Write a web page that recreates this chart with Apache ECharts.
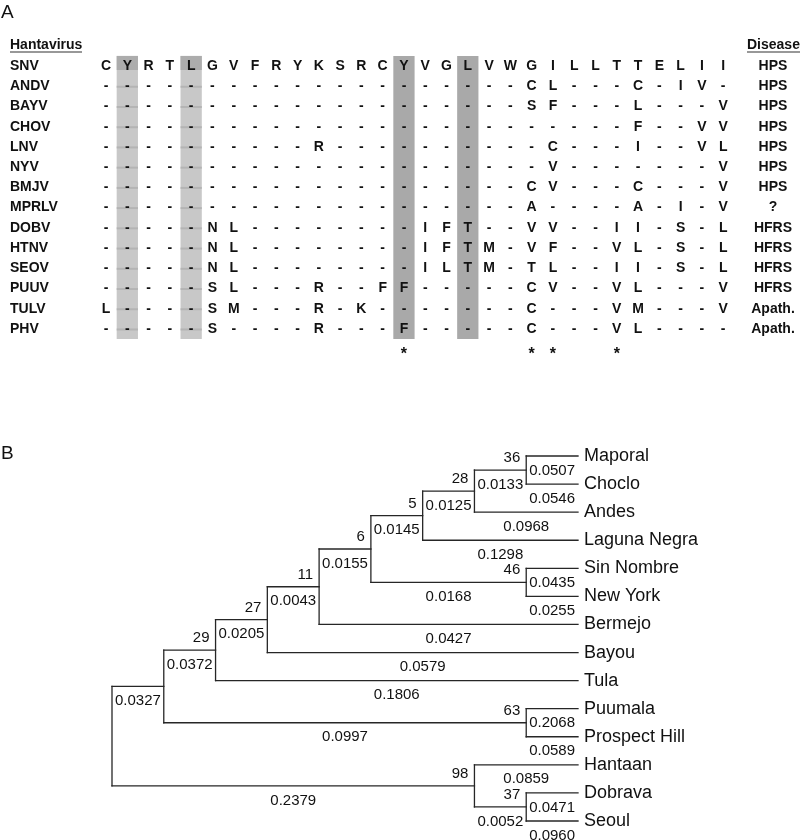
<!DOCTYPE html>
<html><head><meta charset="utf-8">
<script src="https://cdn.jsdelivr.net/npm/echarts@6/dist/echarts.min.js"></script>
<style>html,body{margin:0;padding:0;background:#fff}#c{width:800px;height:840px}</style>
</head><body><div id="c"></div>
<script>
// ---------- Panel A data ----------
const rowNames = ['SNV','ANDV','BAYV','CHOV','LNV','NYV','BMJV','MPRLV','DOBV','HTNV','SEOV','PUUV','TULV','PHV'];
const diseases = ['HPS','HPS','HPS','HPS','HPS','HPS','HPS','?','HFRS','HFRS','HFRS','HFRS','Apath.','Apath.'];
const sequences = [
  'CYRTLGVFRYKSRCYVGLVWGILLTTELII',
  '--------------------CL---C-IV-',
  '--------------------SF---L---V',
  '-------------------------F--VV',
  '----------R----------C---I--VL',
  '---------------------V-------V',
  '--------------------CV---C---V',
  '--------------------A----A-I-V',
  '-----NL--------IFT--VV--II-S-L',
  '-----NL--------IFTM-VF--VL-S-L',
  '-----NL--------ILTM-TL--II-S-L',
  '-----SL---R--FF-----CV--VL---V',
  'L----SM---R-K-------C---VM---V',
  '-----S----R---F-----C---VL----'
];
const shadedCols = [1, 4, 14, 17];
const shadeTones = ['light', 'light', 'dark', 'dark'];
const conservedCols = [14, 20, 21, 24];

// ---------- Panel B data ----------
const treeNewick = '(((((((((Maporal:0.0507,Choclo:0.0546)36:0.0133,Andes:0.0968)28:0.0125,Laguna Negra:0.1298)5:0.0145,(Sin Nombre:0.0435,New York:0.0255)46:0.0168)6:0.0155,Bermejo:0.0427)11:0.0043,Bayou:0.0579)27:0.0205,Tula:0.1806)29:0.0372,(Puumala:0.2068,Prospect Hill:0.0589)63:0.0997):0.0327,(Hantaan:0.0859,(Dobrava:0.0471,Seoul:0.0960)37:0.0052)98:0.2379);';

// ---------- build ----------
const FONT = '"Liberation Sans", Arial, Helvetica, sans-serif';
const TXT = '#111';
const colCats = sequences[0].split('').map((_, i) => String(i));
const cells = [];
const cellText = [];
sequences.forEach((s, r) => s.split('').forEach((ch, c) => { cells.push([c, r]); cellText.push(ch); }));

function parseNewick(s) {
  let i = 0;
  function node() {
    const n = { children: [] };
    if (s[i] === '(') {
      i++;
      n.children.push(node());
      while (s[i] === ',') { i++; n.children.push(node()); }
      i++;
    }
    let name = '';
    while (i < s.length && !',():;'.includes(s[i])) name += s[i++];
    n.name = name;
    n.len = '';
    if (s[i] === ':') { i++; let l = ''; while (i < s.length && !',();'.includes(s[i])) l += s[i++]; n.len = l; }
    return n;
  }
  return node();
}
const root = parseNewick(treeNewick);
let leafCounter = 0;
function layout(n, parent) {
  n.parent = parent;
  if (!n.children.length) { n.h = 0; n.y = leafCounter++; }
  else {
    n.children.forEach(c => layout(c, n));
    n.h = 1 + Math.max(...n.children.map(c => c.h));
    n.y = (n.children[0].y + n.children[n.children.length - 1].y) / 2;
  }
}
layout(root, null);
const all = [];
(function walk(n) { all.push(n); n.children.forEach(walk); })(root);
all.forEach(n => { n.x = root.h - n.h; });

const segs = [];
const labels = [];
const labelInfo = [];
all.forEach(n => {
  if (n.parent) {
    segs.push([n.parent.x, n.y, n.x, n.y]);
    if (n.len) { labels.push([(n.parent.x + n.x) / 2, n.y]); labelInfo.push({ text: n.len, kind: 'len' }); }
  }
  if (n.children.length) {
    segs.push([n.x, n.children[0].y, n.x, n.children[n.children.length - 1].y]);
    if (n.name) { labels.push([n.x, n.y]); labelInfo.push({ text: n.name, kind: 'boot' }); }
  } else {
    labels.push([n.x, n.y]); labelInfo.push({ text: n.name, kind: 'leaf' });
  }
});

const chart = echarts.init(document.getElementById('c'), null, { renderer: 'canvas' });
chart.setOption({
  animation: false,
  backgroundColor: '#fff',
  grid: [
    { left: 95.4, top: 55.9, width: 638.4, height: 283.2, outerBoundsMode: 'none', containLabel: false },
    { left: 112, top: 456, width: 466, height: 365, outerBoundsMode: 'none', containLabel: false }
  ],
  xAxis: [
    { type: 'category', gridIndex: 0, data: colCats, position: 'bottom',
      axisLine: { show: false }, axisTick: { show: false }, splitLine: { show: false },
      axisLabel: { interval: 0, margin: 7, fontSize: 16, fontWeight: 'bold', color: TXT, fontFamily: FONT,
        formatter: (v, i) => conservedCols.includes(i) ? '*' : '' } },
    { type: 'value', gridIndex: 1, min: 0, max: root.h, show: false }
  ],
  yAxis: [
    { type: 'category', gridIndex: 0, data: rowNames, inverse: true,
      axisLine: { show: false }, axisTick: { show: false }, splitLine: { show: false },
      axisLabel: { interval: 0, align: 'left', margin: 85.4, fontSize: 14, fontWeight: 'bold', color: TXT, fontFamily: FONT } },
    { type: 'category', gridIndex: 0, data: diseases, inverse: true, position: 'right',
      axisLine: { show: false }, axisTick: { show: false }, splitLine: { show: false },
      axisLabel: { interval: 0, align: 'center', margin: 39.2, fontSize: 14, fontWeight: 'bold', color: TXT, fontFamily: FONT } },
    { type: 'value', gridIndex: 1, min: 0, max: leafCounter - 1, inverse: true, show: false }
  ],
  series: [
    { type: 'custom', xAxisIndex: 0, yAxisIndex: 0, silent: true, z: 1,
      data: shadedCols.map(c => [c, 0]),
      renderItem: (params, api) => {
        const cs = params.coordSys;
        const p = api.coord([api.value(0), 0]);
        const w = api.size([1, 0])[0];
        const tone = shadeTones[params.dataIndex];
        const children = [{ type: 'rect', shape: { x: p[0] - w / 2, y: cs.y, width: w, height: cs.height },
          style: { fill: tone === 'dark' ? '#a9a9a9' : '#c8c8c8' } }];
        if (tone === 'light') {
          children.push({ type: 'rect', shape: { x: p[0] - w / 2, y: cs.y, width: w, height: p[1] + 4 - cs.y },
            style: { fill: '#acacac' } });
          for (let r = 1; r < rowNames.length; r++) {
            const q = api.coord([api.value(0), r]);
            children.push({ type: 'rect', shape: { x: p[0] - w / 2, y: q[1] - 0.5, width: w, height: 2 },
              style: { fill: '#b4b4b4' } });
          }
        }
        return { type: 'group', children };
      } },
    { type: 'custom', xAxisIndex: 0, yAxisIndex: 0, silent: true, z: 2,
      data: cells,
      renderItem: (params, api) => {
        const p = api.coord([api.value(0), api.value(1)]);
        return { type: 'text', x: p[0], y: p[1],
          style: { text: cellText[params.dataIndex], fill: TXT, font: 'bold 14px ' + FONT, align: 'center', verticalAlign: 'middle' } };
      } },
    { type: 'custom', xAxisIndex: 1, yAxisIndex: 2, silent: true, z: 2,
      data: segs, encode: { x: [0, 2], y: [1, 3] },
      renderItem: (params, api) => {
        const a = api.coord([api.value(0), api.value(1)]);
        const b = api.coord([api.value(2), api.value(3)]);
        return { type: 'line', shape: { x1: a[0], y1: a[1], x2: b[0], y2: b[1] },
          style: { stroke: '#262626', lineWidth: 1.3, lineCap: 'square' } };
      } },
    { type: 'custom', xAxisIndex: 1, yAxisIndex: 2, silent: true, z: 3,
      data: labels,
      renderItem: (params, api) => {
        const p = api.coord([api.value(0), api.value(1)]);
        const info = labelInfo[params.dataIndex];
        let st;
        if (info.kind === 'leaf') st = { x: p[0] + 6, y: p[1], align: 'left', font: '18px ' + FONT };
        else if (info.kind === 'boot') st = { x: p[0] - 6, y: p[1] - 12, align: 'right', font: '15px ' + FONT };
        else st = { x: p[0], y: p[1] + 14.5, align: 'center', font: '15px ' + FONT };
        return { type: 'text', x: st.x, y: st.y,
          style: { text: info.text, fill: TXT, font: st.font, align: st.align, verticalAlign: 'middle' } };
      } }
  ],
  graphic: [
    { type: 'text', left: 1, top: 3, style: { text: 'A', font: '19px ' + FONT, fill: TXT } },
    { type: 'text', left: 1, top: 444, style: { text: 'B', font: '19px ' + FONT, fill: TXT } },
    { type: 'text', x: 10, y: 45, style: { text: 'Hantavirus', font: 'bold 14px ' + FONT, fill: TXT, verticalAlign: 'middle' } },
    { type: 'line', shape: { x1: 10, y1: 52, x2: 82, y2: 52 }, style: { stroke: '#333', lineWidth: 1.2 } },
    { type: 'text', x: 747, y: 45, style: { text: 'Disease', font: 'bold 14px ' + FONT, fill: TXT, verticalAlign: 'middle' } },
    { type: 'line', shape: { x1: 747, y1: 52, x2: 800, y2: 52 }, style: { stroke: '#333', lineWidth: 1.2 } }
  ]
});
</script>
</body></html>
